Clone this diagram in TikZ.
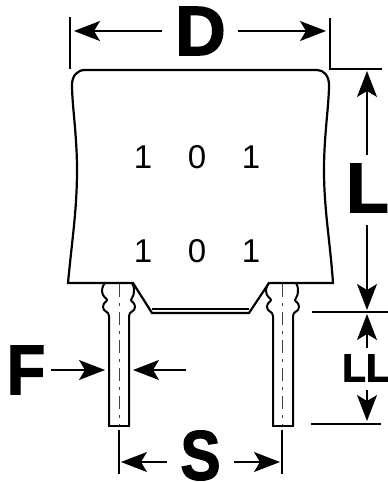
\documentclass[tikz,border=0pt]{standalone}
\usepackage{fontspec}
\setmainfont{Liberation Sans}
\newfontfamily\heavyfont[FakeBold=2,BoldFont={Liberation Sans Bold},UprightFont={Liberation Sans Bold}]{Liberation Sans}
\usetikzlibrary{arrows.meta}
\tikzset{
  x=1pt,y=-1pt,
  outline/.style={line width=2pt,line join=miter,black},
  thin line/.style={line width=1.1pt,black},
  centre line/.style={line width=0.9pt,black!75,dash pattern=on 13pt off 6pt on 3pt off 6pt},
  dimarrow/.style={line width=1.4pt,black,-{Stealth[length=26pt,width=20pt,inset=6pt]}},
  bigletter/.style={inner sep=0pt,font=\heavyfont\fontsize{70}{70}\selectfont},
  midletter/.style={inner sep=0pt,font=\heavyfont\fontsize{39}{39}\selectfont},
  digit/.style={inner sep=0pt,font=\fontsize{33}{33}\selectfont},
}
\begin{document}
\begin{tikzpicture}
\useasboundingbox (0,0) rectangle (388,482);
% body
\draw[outline,line width=2.2pt]
  (133,283) -- (68,283)
  .. controls (72,240) and (77,210) .. (77,170)
  .. controls (77,135) and (72,105) .. (72,85)
  .. controls (72,76) and (77,70) .. (85,70)
  -- (317,70)
  .. controls (324,70) and (329,76) .. (329,85)
  .. controls (329,105) and (324,135) .. (324,170)
  .. controls (324,210) and (330,240) .. (333,283)
  -- (269,283) -- (249,313) -- (152,313) -- cycle;
\draw[line width=1.2pt] (152,309) -- (249,309);
% left lead
\draw[outline]
  (109,426) -- (109,316)
  .. controls (109,311) and (103,312) .. (103,307)
  .. controls (103,302) and (107,302) .. (107,300)
  .. controls (107,298) and (102,297) .. (102,291)
  .. controls (102,287) and (104,284) .. (105,283);
\draw[outline]
  (129,426) -- (129,316)
  .. controls (129,311) and (135,312) .. (135,307)
  .. controls (135,302) and (131,302) .. (131,300)
  .. controls (131,298) and (134,297) .. (134,291)
  .. controls (134,287) and (133,284) .. (132,283);
\draw[outline] (108,426) -- (130,426);
% right lead
\draw[outline]
  (273,426) -- (273,316)
  .. controls (273,311) and (267,312) .. (267,307)
  .. controls (267,302) and (271,302) .. (271,300)
  .. controls (271,298) and (266,297) .. (266,291)
  .. controls (266,287) and (268,284) .. (269,283);
\draw[outline]
  (293,426) -- (293,316)
  .. controls (293,311) and (299,312) .. (299,307)
  .. controls (299,302) and (295,302) .. (295,300)
  .. controls (295,298) and (298,297) .. (298,291)
  .. controls (298,287) and (297,284) .. (296,283);
\draw[outline] (272,426) -- (294,426);
% centre lines
\draw[centre line] (119,284) -- (119,425);
\draw[centre line] (282,284) -- (282,425);
% digits
\node[digit] (a1) at (143,157) {1};
\node[digit] (a2) at (197,157) {0};
\node[digit] (a3) at (251,157) {1};
\node[digit] (b1) at (143,251) {1};
\node[digit] (b2) at (197,251) {0};
\node[digit] (b3) at (251,251) {1};
% letters
\node[bigletter] (D) at (200.5,31) {D};
\node[bigletter] (L) at (367.5,188) {L};
\node[bigletter,transform shape,xscale=.9] (F) at (26,370) {F};
\node[bigletter,transform shape,xscale=.86] (S) at (200.5,455.5) {S};
\node[midletter] (LL) at (366,368) {LL};
% extension lines
\coordinate (d1a) at (70,17); \coordinate (d1b) at (70,69);
\coordinate (d2a) at (330,18); \coordinate (d2b) at (330,69); \coordinate (d2c) at (382,69);
\coordinate (l1) at (312,312); \coordinate (l2) at (388,312);
\coordinate (ll1) at (311,424); \coordinate (ll2) at (381,424);
\coordinate (s1a) at (119,430); \coordinate (s1b) at (119,474);
\coordinate (s2a) at (282,430); \coordinate (s2b) at (282,474);
\draw[thin line] (d1a) -- (d1b);
\draw[thin line] (d2a) -- (d2b) -- (d2c);
\draw[thin line] (l1) -- (l2);
\draw[thin line] (ll1) -- (ll2);
\draw[thin line] (s1a) -- (s1b);
\draw[thin line] (s2a) -- (s2b);
% arrow ends
\coordinate (Dl) at (162,31); \coordinate (Dlt) at (74,31);
\coordinate (Dr) at (238,31); \coordinate (Drt) at (326,31);
\coordinate (Lu) at (367,155); \coordinate (Lut) at (367,71);
\coordinate (Ld) at (367,225); \coordinate (Ldt) at (367,310);
\coordinate (LLu) at (367,348); \coordinate (LLut) at (367,314);
\coordinate (LLd) at (367,390); \coordinate (LLdt) at (367,421);
\coordinate (Fa) at (51,370); \coordinate (Fat) at (105,370);
\coordinate (Fb) at (186,370); \coordinate (Fbt) at (133,370);
\coordinate (Sl) at (167,462); \coordinate (Slt) at (121,462);
\coordinate (Sr) at (234,462); \coordinate (Srt) at (280,462);
\draw[dimarrow] (Dl) -- (Dlt);
\draw[dimarrow] (Dr) -- (Drt);
\draw[dimarrow] (Lu) -- (Lut);
\draw[dimarrow] (Ld) -- (Ldt);
\draw[dimarrow] (LLu) -- (LLut);
\draw[dimarrow] (LLd) -- (LLdt);
\draw[dimarrow] (Fa) -- (Fat);
\draw[dimarrow] (Fb) -- (Fbt);
\draw[dimarrow] (Sl) -- (Slt);
\draw[dimarrow] (Sr) -- (Srt);
\end{tikzpicture}
\end{document}
